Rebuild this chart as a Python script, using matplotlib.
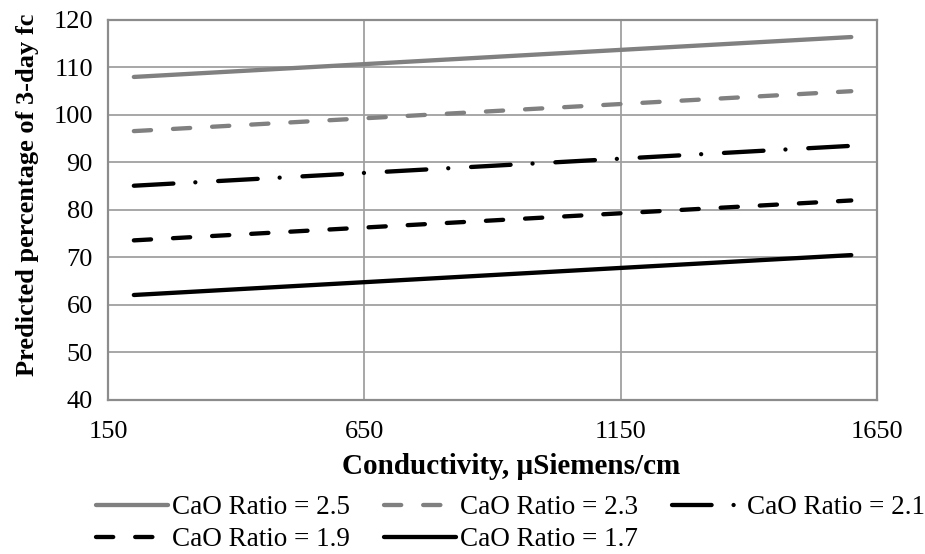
import matplotlib.pyplot as plt

plt.rcParams['font.family'] = ['Liberation Serif', 'DejaVu Serif']

conductivity = [200, 1600]
labels = ['CaO Ratio = 2.5', 'CaO Ratio = 2.3', 'CaO Ratio = 2.1',
          'CaO Ratio = 1.9', 'CaO Ratio = 1.7']
values = [
    [108.0, 116.4],
    [96.6, 105.0],
    [85.1, 93.5],
    [73.6, 82.0],
    [62.1, 70.5],
]
colors = ['#808080', '#808080', 'black', 'black', 'black']
dashes = [None, (4.0, 5.1), (9.2, 5.1, 0.01, 5.3), (4.0, 5.1), None]

fig = plt.figure(figsize=(9.25, 5.54), dpi=100)
ax = fig.add_axes([0.117, 0.278, 0.831, 0.686])

lines = []
for v, lab, c, d in zip(values, labels, colors, dashes):
    line, = ax.plot(conductivity, v, color=c, lw=3.1, label=lab,
                    solid_capstyle='round', dash_capstyle='round')
    if d is not None:
        line.set_dashes(d)
    lines.append(line)

ax.set_xlim(150, 1650)
ax.set_ylim(40, 120)
ax.set_xticks([150, 650, 1150, 1650])
ax.set_yticks(range(40, 121, 10))
ax.grid(True, color='#a0a0a0', lw=1.3)
ax.set_axisbelow(True)
for s in ax.spines.values():
    s.set_color('#8c8c8c')
    s.set_linewidth(1.6)
ax.tick_params(length=0, labelsize=19)
ax.tick_params(axis='x', pad=15)
ax.tick_params(axis='y', pad=11)
ax.set_xlabel('Conductivity, µSiemens/cm', fontsize=21, fontweight='bold')
ax.set_ylabel('Predicted percentage of 3-day fc', fontsize=19, fontweight='bold')
ax.xaxis.set_label_coords(0.524, -0.14)
ax.yaxis.set_label_coords(-0.09, 0.54)

# row-wise legend order (matplotlib fills columns first)
order = [0, 3, 1, 4, 2]
ax.legend([lines[i] for i in order], [labels[i] for i in order],
          loc='upper left', bbox_to_anchor=(0.104, 0.106), bbox_transform=fig.transFigure,
          borderaxespad=0, borderpad=0, ncol=3, frameon=False,
          fontsize=19.5, handlelength=2.65, handletextpad=0.15, columnspacing=1.25,
          labelspacing=0.25)

fig.savefig('out.png', dpi=100)
